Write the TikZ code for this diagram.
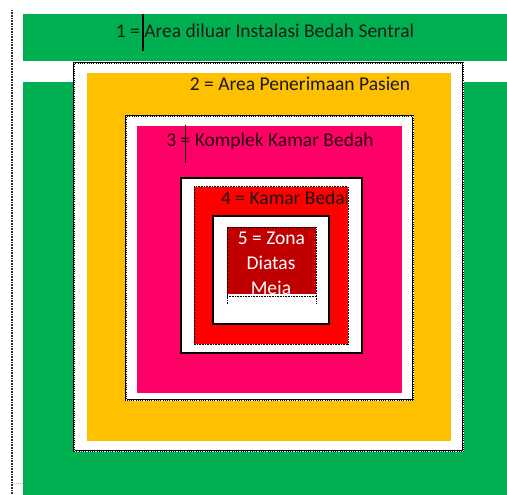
\documentclass[tikz,border=0pt]{standalone}
\usepackage{fontspec}
\setmainfont{Carlito}
\definecolor{zgreen}{HTML}{00B050}
\definecolor{zyellow}{HTML}{FFC000}
\definecolor{zpink}{HTML}{FF0066}
\definecolor{zred}{HTML}{FF0000}
\definecolor{zdark}{HTML}{C00000}
\begin{document}
\begin{tikzpicture}[x=1pt,y=-1pt,
  frame/.style={draw=black,line width=2.4pt},
  frdots/.style={draw=white,line width=0.9pt,dash pattern=on 0.9pt off 0.9pt},
  lbl/.style={inner sep=0pt,font=\fontsize{19.5}{22}\selectfont}]
\useasboundingbox (0,0) rectangle (507,495);
\fill[white] (0,0) rectangle (507,495);
% left dotted margin line
\draw[black!80,line width=1.6pt,dash pattern=on 0.8pt off 0.8pt] (12,10) -- (12,495);
\draw[gray!50,line width=1pt,dash pattern=on 1pt off 1pt] (12,483) -- (23,483);
% green zone 1
\fill[zgreen] (23,14) rectangle (507,61);
\fill[zgreen] (23,82) rectangle (507,495);
% zone 2
\fill[white] (74,63) rectangle (463,451);
\draw[frame] (74,63) rectangle (463,451);
\draw[frdots] (74,63) rectangle (463,451);
\fill[zyellow] (87,73) rectangle (451,441);
% zone 3
\fill[white] (126,116) rectangle (413,400);
\draw[frame] (126,116) rectangle (413,400);
\draw[frdots] (126,116) rectangle (413,400);
\fill[zpink] (137,126) rectangle (402,393);
% zone 4
\fill[white] (181,178) rectangle (362,353);
\draw[black,line width=1.6pt] (181,178) rectangle (362,353);
\fill[zred] (194,187) rectangle (348,344);
\draw[black,line width=1pt,dash pattern=on 0.8pt off 0.8pt] (194,187) rectangle (348,344);
% inner white frame
\fill[white] (213,216) rectangle (329,324);
\draw[black,line width=1.6pt] (213,216) rectangle (329,324);
% zone 5
\fill[zdark] (227,227) rectangle (316,294);
\draw[black,line width=1pt,dash pattern=on 0.8pt off 0.8pt] (227,304) -- (227,227) -- (316,227) -- (316,304);
\draw[black,line width=1pt,dash pattern=on 0.8pt off 0.8pt] (227,296) -- (316,296);
% labels
\node[lbl,text=black!90] (t1) at (265,31) {1 = Area diluar Instalasi Bedah Sentral};
\draw[black,line width=2.5pt] (143,14) -- (143,51);
\node[lbl,text=black!90] (t2) at (300,84) {2 = Area Penerimaan Pasien};
\node[lbl,text=black!85!zpink] (t3) at (270,141) {3 = Komplek Kamar Bedah};
\draw[black,line width=1pt] (185,125) -- (185,163);
\begin{scope}
\clip (194,187) rectangle (346,344);
\node[lbl,anchor=west,text=black!90] (t4) at (221,198) {4 = Kamar Bedah};
\end{scope}
\begin{scope}
\clip (227,227) rectangle (316,294);
\node[lbl,text=white] (t5a) at (271.5,238) {5 = Zona};
\node[lbl,text=white] (t5b) at (271,263) {Diatas};
\node[lbl,text=white] (t5c) at (271,289) {Meja};
\end{scope}
\end{tikzpicture}
\end{document}
